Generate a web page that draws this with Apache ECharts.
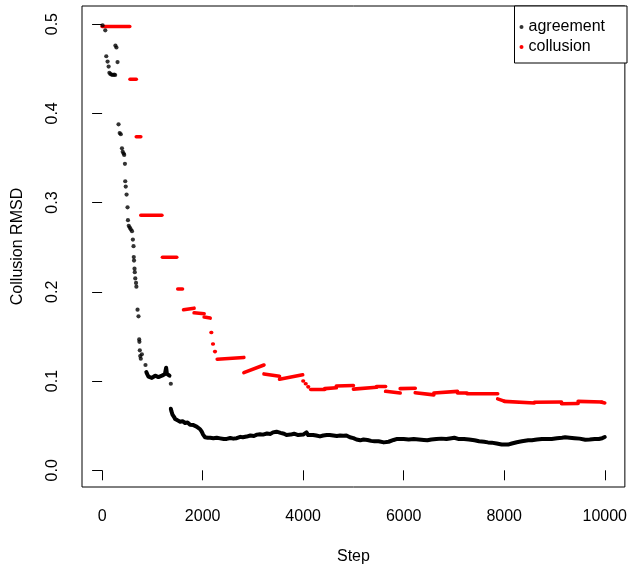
<!DOCTYPE html>
<html>
<head>
<meta charset="utf-8">
<script src="https://cdn.jsdelivr.net/npm/echarts@6/dist/echarts.min.js"></script>
<style>
html,body{margin:0;padding:0;background:#fff;}
#chart{width:630px;height:570px;}
</style>
</head>
<body>
<div id="chart"></div>
<script>
// ---- data ----
var xTicks = [0, 2000, 4000, 6000, 8000, 10000];
var yTicks = [0, 0.1, 0.2, 0.3, 0.4, 0.5];

// agreement: isolated early points
var agreementSteps = [10, 63, 83, 109, 130, 145, 165, 190, 215, 240, 260, 265, 285, 307, 327, 350, 372, 395, 410, 428, 440, 454, 460, 470, 487, 506, 514, 530, 550, 570, 595, 612, 625, 630, 635, 645, 650, 660, 675, 682, 705, 724, 738, 742, 750, 758, 770, 791, 863, 1367];
var agreementValues = [0.4985, 0.493, 0.464, 0.458, 0.4524, 0.4455, 0.444, 0.4435, 0.443, 0.4435, 0.443, 0.476, 0.4738, 0.4575, 0.3877, 0.378, 0.3766, 0.3608, 0.357, 0.355, 0.3534, 0.3434, 0.3239, 0.318, 0.309, 0.2947, 0.2803, 0.274, 0.272, 0.270, 0.268, 0.2586, 0.2512, 0.239, 0.235, 0.226, 0.222, 0.215, 0.210, 0.2058, 0.180, 0.1725, 0.1467, 0.144, 0.1345, 0.128, 0.125, 0.130, 0.118, 0.097];

// agreement: dense run (null = gap)
var agreementRunSteps = [880, 900, 922, 950, 990, 1020, 1056, 1090, 1120, 1155, 1190, 1221, 1250, 1274, 1290, 1300, 1320, 1340, 1355,
  1367, 1380, 1400, 1430, 1453, 1500, 1552, 1600, 1651, 1700, 1750, 1816, 1850, 1880, 1915, 1950, 1982, 2010, 2048, 2100, 2150, 2213, 2280, 2350, 2420, 2478, 2550, 2610, 2677, 2750, 2800, 2875, 2950, 3020, 3080, 3140, 3200, 3280, 3350, 3400, 3471, 3550, 3620, 3669, 3750, 3820, 3900, 3935, 4000, 4066, 4100, 4198, 4260, 4334, 4400, 4470, 4529, 4600, 4670, 4735, 4800, 4860, 4930, 5000, 5060, 5136, 5200, 5280, 5350, 5420, 5500, 5605, 5700, 5800, 5870, 5937, 6000, 6100, 6200, 6300, 6400, 6471, 6550, 6650, 6750, 6850, 6950, 7007, 7100, 7200, 7300, 7408, 7500, 7600, 7676, 7750, 7850, 7950, 8077, 8150, 8250, 8350, 8478, 8550, 8650, 8750, 8850, 8944, 9050, 9150, 9212, 9300, 9400, 9500, 9613, 9700, 9800, 9881, 9950, 10000];
var agreementRunValues = [0.110, 0.1075, 0.105, 0.104, 0.1035, 0.105, 0.106, 0.1045, 0.1045, 0.1053, 0.106, 0.107, 0.108, 0.115, 0.108, 0.106, 0.106, 0.106, null,
  0.069, 0.066, 0.0625, 0.060, 0.0575, 0.056, 0.0545, 0.055, 0.053, 0.0535, 0.051, 0.0507, 0.052, 0.049, 0.047, 0.046, 0.0433, 0.040, 0.037, 0.0365, 0.0365, 0.036, 0.0365, 0.0358, 0.035, 0.0352, 0.0362, 0.0355, 0.036, 0.0375, 0.037, 0.0378, 0.039, 0.0385, 0.040, 0.0404, 0.040, 0.0412, 0.0408, 0.0425, 0.0433, 0.042, 0.041, 0.0396, 0.040, 0.041, 0.0395, 0.039, 0.040, 0.0425, 0.0395, 0.0396, 0.039, 0.038, 0.039, 0.0395, 0.0395, 0.039, 0.0385, 0.039, 0.0388, 0.039, 0.037, 0.036, 0.0345, 0.0336, 0.0345, 0.034, 0.033, 0.0325, 0.0325, 0.0313, 0.032, 0.034, 0.0352, 0.0351, 0.035, 0.0345, 0.035, 0.0345, 0.034, 0.0336, 0.0345, 0.035, 0.0355, 0.035, 0.036, 0.0365, 0.035, 0.035, 0.0345, 0.0336, 0.0325, 0.032, 0.0313, 0.031, 0.030, 0.029, 0.0288, 0.030, 0.0315, 0.0325, 0.0336, 0.0338, 0.0345, 0.035, 0.035, 0.0351, 0.036, 0.0365, 0.037, 0.0365, 0.036, 0.0355, 0.0343, 0.0345, 0.035, 0.0351, 0.036, 0.0373];

// collusion: plateaus (start step, end step, start value, end value)
var collusionStart = [0, 555, 680, 770, 1200, 1505, 1620, 1830, 2030, 2167, 2200, 2240, 2290, 2820, 3220, 3530, 3995, 4045, 4095, 4150, 4430, 4660, 5000, 5460, 5640, 5930, 6230, 6600, 7070, 7260, 7870, 8000, 8600, 9140, 9470, 9940];
var collusionEnd   = [550, 680, 770, 1190, 1485, 1600, 1830, 2030, 2150, 2167, 2200, 2240, 2820, 3220, 3530, 3990, 4005, 4055, 4105, 4430, 4660, 5000, 5460, 5640, 5930, 6230, 6600, 7070, 7260, 7870, 8000, 8600, 9140, 9470, 9940, 10000];
var collusionFrom  = [0.4973, 0.4383, 0.3737, 0.2858, 0.2387, 0.2032, 0.1800, 0.1765, 0.1718, 0.1545, 0.1415, 0.1330, 0.1245, 0.1095, 0.1080, 0.1020, 0.1000, 0.0970, 0.0935, 0.0905, 0.0915, 0.0945, 0.0910, 0.0940, 0.0885, 0.0915, 0.0870, 0.0866, 0.0866, 0.0858, 0.0800, 0.0773, 0.0762, 0.0746, 0.0773, 0.0762];
var collusionTo    = [0.4973, 0.4383, 0.3737, 0.2858, 0.2387, 0.2032, 0.1817, 0.1755, 0.1706, 0.1545, 0.1415, 0.1330, 0.1265, 0.1180, 0.1055, 0.1070, 0.1000, 0.0970, 0.0935, 0.0905, 0.0925, 0.0950, 0.0930, 0.0940, 0.0866, 0.0920, 0.0845, 0.0885, 0.0866, 0.0858, 0.0775, 0.0755, 0.0765, 0.0748, 0.0766, 0.0755];

// ---- build chart ----
var FONT = "'Liberation Sans', Arial, Helvetica, sans-serif";
var agreementPoints = agreementSteps.map(function (s, i) { return [s, agreementValues[i]]; });
var agreementRun = agreementRunSteps.map(function (s, i) {
  return [s, agreementRunValues[i] === null ? '-' : agreementRunValues[i]];
});
var collusionSegs = collusionStart.map(function (s, i) {
  return [s, collusionEnd[i], collusionFrom[i], collusionTo[i]];
});

var chart = echarts.init(document.getElementById('chart'), null, {renderer: 'canvas'});
chart.setOption({
  animation: false,
  backgroundColor: '#ffffff',
  textStyle: {fontFamily: FONT},
  grid: {left: 82, right: 3, top: 6, bottom: 77, show: true, borderColor: '#000', borderWidth: 1, backgroundColor: 'transparent'},
  legend: {
    right: 3, top: 6, orient: 'vertical',
    backgroundColor: '#fff', borderColor: '#000', borderWidth: 1, borderRadius: 0,
    padding: [11, 22, 6, 5], itemGap: 0, itemWidth: 4, itemHeight: 4,
    selectedMode: false,
    textStyle: {fontSize: 16, color: '#000', fontFamily: FONT, lineHeight: 20},
    data: [
      {name: 'agreement', icon: 'circle', itemStyle: {color: '#000'}},
      {name: 'collusion', icon: 'circle', itemStyle: {color: '#ff0000'}}
    ]
  },
  xAxis: {
    type: 'value', min: -400, max: 10400,
    axisLine: {show: false}, splitLine: {show: false},
    axisTick: {show: true, customValues: xTicks, length: 10, lineStyle: {color: '#000', width: 1}},
    axisLabel: {customValues: xTicks, margin: 22, fontSize: 16, color: '#000', fontFamily: FONT,
      formatter: function (v) { return String(v); }},
    name: 'Step', nameLocation: 'middle', nameGap: 62,
    nameTextStyle: {fontSize: 16, color: '#000', fontFamily: FONT}
  },
  yAxis: {
    type: 'value', min: -0.0187, max: 0.5203,
    axisLine: {show: false}, splitLine: {show: false},
    axisTick: {show: true, customValues: yTicks, length: 10, lineStyle: {color: '#000', width: 1}},
    axisLabel: {customValues: yTicks, margin: 21, rotate: 90, fontSize: 16, color: '#000', fontFamily: FONT,
      formatter: function (v) { return v.toFixed(1); }},
    name: 'Collusion RMSD', nameLocation: 'middle', nameGap: 56,
    nameTextStyle: {fontSize: 16, color: '#000', fontFamily: FONT}
  },
  series: [
    {
      name: 'collusion', type: 'custom', z: 2,
      itemStyle: {color: '#ff0000'},
      encode: {x: [0, 1], y: [2, 3]},
      data: collusionSegs,
      renderItem: function (params, api) {
        var a = api.coord([api.value(0), api.value(2)]);
        var b = api.coord([api.value(1), api.value(3)]);
        if (b[0] - a[0] < 0.6) { b = [a[0] + 0.6, b[1]]; }
        return {type: 'line', shape: {x1: a[0], y1: a[1], x2: b[0], y2: b[1]},
          style: {stroke: '#ff0000', lineWidth: 3.6, lineCap: 'round'}};
      }
    },
    {
      name: 'agreement', type: 'scatter', z: 3,
      symbol: 'circle', symbolSize: 4.2,
      itemStyle: {color: '#000'},
      data: agreementPoints
    },
    {
      name: 'agreement', type: 'line', z: 3,
      symbol: 'none', connectNulls: false,
      lineStyle: {color: '#000', width: 4, cap: 'round', join: 'round'},
      itemStyle: {color: '#000'},
      data: agreementRun
    }
  ]
});
</script>
</body>
</html>
